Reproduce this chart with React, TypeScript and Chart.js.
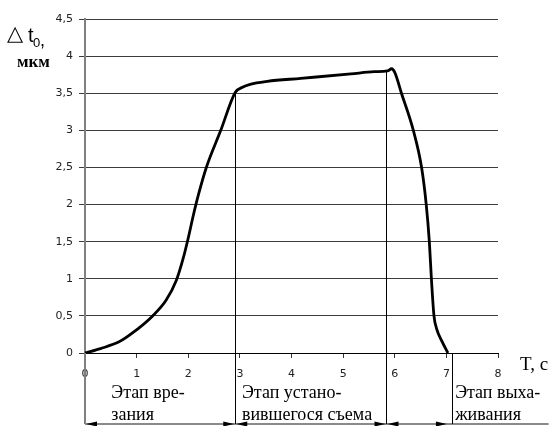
import React, { useEffect, useRef } from "react";
import { Chart, registerables } from "chart.js";

Chart.register(...registerables);

// Curve: time T (s) vs wear Δt0 (µm)
const tValues = [0, 0.3, 0.66, 0.92, 1.31, 1.57, 1.77, 1.9, 2.0, 2.1, 2.2, 2.35, 2.63, 2.91, 3.05, 3.2, 3.53, 4.18, 5.15, 5.6, 5.86, 5.94, 6.0, 6.13, 6.36, 6.52, 6.61, 6.67, 6.71, 6.76, 6.81, 6.92, 7.03];
const dtValues = [0, 0.06, 0.15, 0.27, 0.5, 0.71, 0.98, 1.27, 1.55, 1.86, 2.14, 2.5, 3.0, 3.51, 3.58, 3.62, 3.66, 3.7, 3.76, 3.79, 3.8, 3.83, 3.78, 3.5, 3.0, 2.5, 2.0, 1.5, 1.0, 0.5, 0.33, 0.15, 0];

const xTickLabels = ["0", "1", "2", "3", "4", "5", "6", "7", "8"];
const yTickLabels = ["0", "0,5", "1", "1,5", "2", "2,5", "3", "3,5", "4", "4,5"];

// Stage boundaries (vertical lines) and where they start on the curve
const boundaryX = [2.91, 5.84, 7.1];
const boundaryTopY = [3.51, 3.8, 0];

// Double arrows under each stage
const arrowStart = [0, 2.91, 5.84];
const arrowEnd = [2.91, 5.84, 7.03];

// Stage captions
const stageTextX = [0.51, 3.04, 7.17];
const stageLine1 = ["Этап вре-", "Этап устано-", "Этап выха-"];
const stageLine2 = ["зания", "вившегося съема", "живания"];

const xAxisTitle = "T, c";
const yAxisSymbol = "△";
const yAxisVar = "t";
const yAxisSub = "0";
const yAxisUnit = "мкм";

const annotations = {
  id: "annotations",
  afterDraw(chart: any) {
    const ctx = chart.ctx;
    const xs = chart.scales.x;
    const ys = chart.scales.y;
    const area = chart.chartArea;
    const bottomY = area.bottom + 71;
    ctx.save();

    // extension of left axis down to the bottom line
    ctx.strokeStyle = "#808080";
    ctx.lineWidth = 2;
    ctx.beginPath();
    ctx.moveTo(xs.getPixelForValue(0), area.bottom);
    ctx.lineTo(xs.getPixelForValue(0), bottomY);
    ctx.stroke();

    // bottom line
    ctx.strokeStyle = "#8a8a8a";
    ctx.lineWidth = 2;
    ctx.beginPath();
    ctx.moveTo(xs.getPixelForValue(0), bottomY);
    ctx.lineTo(xs.getPixelForValue(8.98), bottomY);
    ctx.stroke();

    // vertical boundary lines
    ctx.strokeStyle = "#000";
    ctx.lineWidth = 1;
    boundaryX.forEach((bx, i) => {
      const px = Math.round(xs.getPixelForValue(bx)) + 0.5;
      ctx.beginPath();
      ctx.moveTo(px, ys.getPixelForValue(boundaryTopY[i]));
      ctx.lineTo(px, bottomY);
      ctx.stroke();
    });

    // arrowheads
    ctx.fillStyle = "#000";
    const head = (px: number, dir: number) => {
      ctx.beginPath();
      ctx.moveTo(px, bottomY);
      ctx.lineTo(px + dir * 11, bottomY - 2.5);
      ctx.lineTo(px + dir * 11, bottomY + 2.5);
      ctx.closePath();
      ctx.fill();
    };
    arrowStart.forEach((a, i) => {
      head(xs.getPixelForValue(a) + 1, 1);
      head(xs.getPixelForValue(arrowEnd[i]) - 1, -1);
    });

    // stage captions
    ctx.fillStyle = "#000";
    ctx.font = "18px 'Liberation Serif', 'Times New Roman', serif";
    ctx.textAlign = "left";
    ctx.textBaseline = "alphabetic";
    stageTextX.forEach((tx, i) => {
      const px = xs.getPixelForValue(tx);
      ctx.fillText(stageLine1[i], px, area.bottom + 45);
      ctx.fillText(stageLine2[i], px, area.bottom + 67);
    });

    // x axis title
    ctx.font = "19px 'Liberation Serif', 'Times New Roman', serif";
    ctx.fillText(xAxisTitle, xs.getPixelForValue(8) + 22, area.bottom + 17);

    // y axis title
    ctx.font = "21px 'DejaVu Sans', sans-serif";
    ctx.fillText(yAxisSymbol, 7, 40);
    ctx.font = "20px 'Liberation Sans', Arial, sans-serif";
    ctx.fillText(yAxisVar, 28, 42);
    ctx.font = "13px 'Liberation Sans', Arial, sans-serif";
    ctx.fillText(yAxisSub, 33, 47);
    ctx.font = "18px 'Liberation Sans', Arial, sans-serif";
    ctx.fillText(",", 40, 46);
    ctx.font = "bold 17px 'Liberation Serif', 'Times New Roman', serif";
    ctx.fillText(yAxisUnit, 17, 67);

    ctx.restore();
  },
};

export default function App() {
  const ref = useRef<HTMLCanvasElement>(null);
  useEffect(() => {
    document.body.style.margin = "0";
    const data = tValues.map((t, i) => ({ x: t, y: dtValues[i] }));
    const chart = new Chart(ref.current!, {
      type: "line",
      data: {
        datasets: [
          {
            data,
            borderColor: "#000",
            borderWidth: 2.8,
            pointRadius: 0,
            cubicInterpolationMode: "monotone",
            fill: false,
            clip: false as any,
          },
        ],
      },
      options: {
        animation: false,
        responsive: false,
        events: [],
        layout: { padding: { left: 0, right: 55, top: 19, bottom: 0 } },
        plugins: { legend: { display: false }, tooltip: { enabled: false } },
        scales: {
          x: {
            type: "linear",
            min: 0,
            max: 8,
            afterFit: (s: any) => {
              s.height = 73;
            },
            afterBuildTicks: (s: any) => {
              s.ticks = xTickLabels.map((_, i) => ({ value: i }));
            },
            ticks: {
              callback: (_v: any, i: number) => xTickLabels[i],
              font: { family: "'DejaVu Sans', sans-serif", size: 11 },
              color: "#222",
              padding: 10,
              maxRotation: 0,
            },
            grid: { drawOnChartArea: false, drawTicks: true, tickLength: 5, color: "#333" },
            border: { color: "#000", width: 1 },
          },
          y: {
            type: "linear",
            min: 0,
            max: 4.5,
            afterFit: (s: any) => {
              s.width = 85;
            },
            afterBuildTicks: (s: any) => {
              s.ticks = yTickLabels.map((_, i) => ({ value: i * 0.5 }));
            },
            ticks: {
              callback: (_v: any, i: number) => yTickLabels[i],
              font: { family: "'DejaVu Sans', sans-serif", size: 11 },
              color: "#222",
              padding: 6,
            },
            grid: { color: "#3c3c3c", lineWidth: 1, tickLength: 6 },
            border: { color: "#808080", width: 2 },
          },
        },
      },
      plugins: [annotations],
    });
    return () => chart.destroy();
  }, []);
  return <canvas ref={ref} width={553} height={426} style={{ display: "block" }} />;
}
